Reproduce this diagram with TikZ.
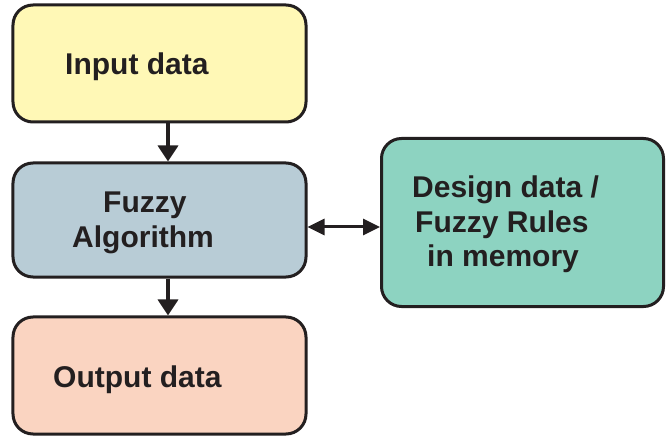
\documentclass[tikz,border=0pt]{standalone}
\usepackage{fontspec}
\setmainfont{Liberation Sans}
\usetikzlibrary{arrows.meta}
\definecolor{inyellow}{HTML}{FFF8B6}
\definecolor{algblue}{HTML}{B8CCD6}
\definecolor{outsalmon}{HTML}{FAD4C1}
\definecolor{memteal}{HTML}{8DD3C1}
\definecolor{inkdark}{HTML}{231F20}
\begin{document}
\begin{tikzpicture}[x=1bp,y=-1bp,
  block/.style={draw=inkdark, line width=3bp, rounded corners=20bp, inner sep=0pt},
  lbl/.style={anchor=base west, inner sep=0pt, text=inkdark,
    font=\fontsize{30bp}{36bp}\selectfont\bfseries},
  flow/.style={draw=inkdark, line width=3.5bp,
    -{Triangle[length=16bp,width=20bp]}},
  both/.style={draw=inkdark, line width=3bp,
    {Triangle[length=17bp,width=16bp]}-{Triangle[length=17bp,width=16bp]}}]
\useasboundingbox (0,0) rectangle (666,437);
% boxes
\node[block, fill=inyellow, minimum width=293bp, minimum height=117bp] (in) at (159.5,63.5) {};
\node[block, fill=algblue, minimum width=293bp, minimum height=114bp] (alg) at (159.5,220) {};
\node[block, fill=outsalmon, minimum width=293bp, minimum height=117bp] (out) at (159.5,375.5) {};
\node[block, fill=memteal, minimum width=282bp, minimum height=168bp] (mem) at (522.5,222.5) {};
% labels
\node[lbl] (tin) at (65,75) {Input data};
\node[lbl] (talg1) at (103,213) {Fuzzy};
\node[lbl] (talg2) at (72,248) {Algorithm};
\node[lbl] (tout) at (53,387) {Output data};
\node[lbl] (tmem1) at (412,198) {Design data /};
\node[lbl] (tmem2) at (415,233) {Fuzzy Rules};
\node[lbl] (tmem3) at (427,267) {in memory};
% connectors, the vertical ones slightly right of the box centres
\coordinate (c1) at (168,0);
\draw[flow] (in.south -| c1) -- (alg.north -| c1);
\draw[flow] (alg.south -| c1) -- (out.north -| c1);
\draw[both] (alg.east |- 0,227) coordinate (a) -- (mem.west |- a);
\end{tikzpicture}
\end{document}
